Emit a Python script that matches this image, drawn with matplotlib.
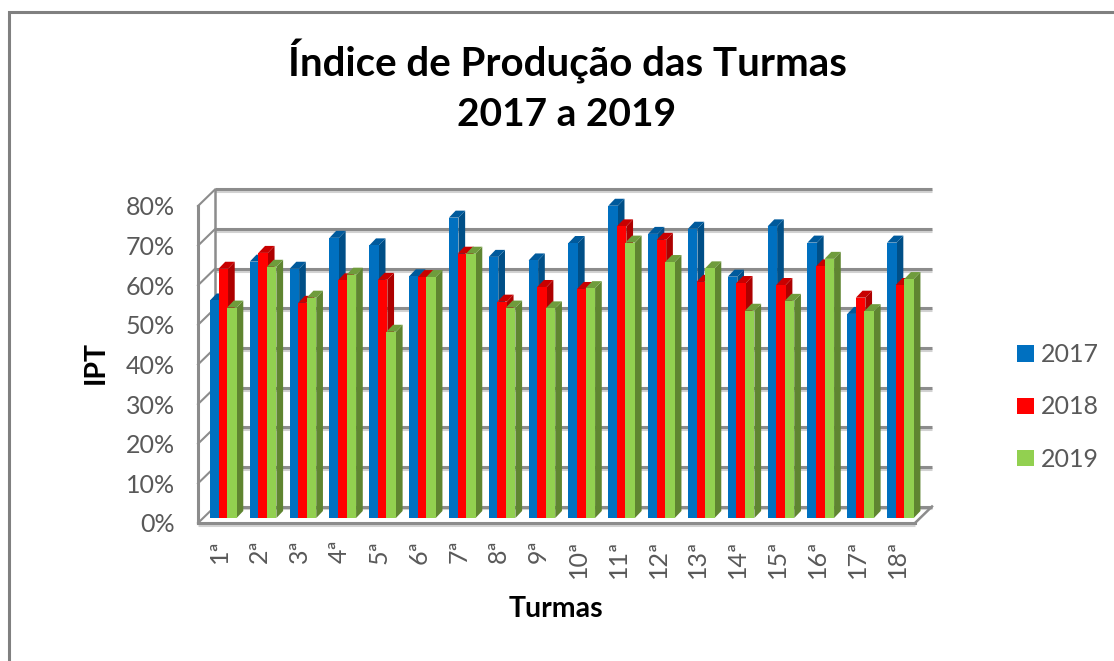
import matplotlib
matplotlib.use("Agg")
import numpy as np
import matplotlib.pyplot as plt
from matplotlib.lines import Line2D

plt.rcParams["font.family"] = ["Lato", "DejaVu Sans"]

turmas = ["1ª", "2ª", "3ª", "4ª", "5ª", "6ª", "7ª", "8ª", "9ª", "10ª",
          "11ª", "12ª", "13ª", "14ª", "15ª", "16ª", "17ª", "18ª"]
ipt_2017 = [54.9, 64.7, 62.9, 70.7, 68.8, 61.0, 75.8, 65.9, 65.0,
            69.4, 78.8, 71.7, 73.0, 60.9, 73.6, 69.5, 51.5, 69.5]
ipt_2018 = [62.9, 66.9, 54.3, 60.0, 60.1, 60.8, 66.7, 54.6, 58.3,
            57.8, 73.6, 70.2, 59.6, 59.3, 58.8, 63.5, 55.6, 58.8]
ipt_2019 = [53.1, 63.4, 55.6, 61.4, 47.0, 60.8, 66.7, 53.1, 52.9,
            58.0, 69.5, 64.6, 63.0, 52.3, 54.8, 65.4, 52.2, 60.3]
percent_ticks = [0, 10, 20, 30, 40, 50, 60, 70, 80]

W, H = 1114, 661
PX_X = 717 / 18   # pixels per category
PX_Y = 317 / 80   # pixels per percentage point

GRID = "#8c8c8c"
GRID_SHADOW = "#d2d2d2"
TEXT = "#595959"

# series: values, left offset in the category, front / top / side colours
series = [
    ("2017", ipt_2017, 0.30, "#0070c0", "#005a9c", "#004f87"),
    ("2018", ipt_2018, 0.515, "#ff0000", "#c80000", "#ad0000"),
    ("2019", ipt_2019, 0.73, "#92d050", "#6f9c3c", "#5f8531"),
]
BAR_W = 9.5 / PX_X
FLOOR = 5 / PX_Y          # bars stand a bit behind the front edge
DEPTH_X = 6.7 / PX_X
DEPTH_Y = 7 / PX_Y
BACK_X = 17 / PX_X
BACK_Y = 16.5 / PX_Y

fig = plt.figure(figsize=(W / 100, H / 100), dpi=100)
ax = fig.add_axes([198 / W, (H - 523) / H, 717 / W, 317 / H])
ax.set_xlim(0, 18)
ax.set_ylim(0, 80)
ax.patch.set_alpha(0)

# back wall
ax.hlines(np.array(percent_ticks) + BACK_Y - 0.5, BACK_X, 18 + BACK_X,
          color=GRID_SHADOW, lw=2.2, zorder=1, clip_on=False)
ax.hlines(np.array(percent_ticks) + BACK_Y, BACK_X, 18 + BACK_X,
          color=GRID, lw=2.2, zorder=1.1, clip_on=False)
ax.vlines(BACK_X, BACK_Y, 80 + BACK_Y, color=GRID, lw=1.8, zorder=1.1, clip_on=False)
for v in percent_ticks:
    ax.plot([0, BACK_X], [v, v + BACK_Y], color=GRID, lw=1.5, zorder=1.1, clip_on=False)
ax.plot([18, 18 + BACK_X], [0, BACK_Y], color=GRID, lw=1.8, zorder=1.1, clip_on=False)
ax.hlines(-0.5, 0, 18, color=GRID_SHADOW, lw=2.2, zorder=1, clip_on=False)

for spine in ["top", "right"]:
    ax.spines[spine].set_visible(False)
for spine in ["left", "bottom"]:
    ax.spines[spine].set_color(GRID)
    ax.spines[spine].set_linewidth(2.2)

x = np.arange(len(turmas))
handles = []
for k, (name, values, offset, front, top, side) in enumerate(series):
    z = 3 + k
    left = x + offset
    right = left + BAR_W
    for l, r, v in zip(left, right, values):
        y0, y1 = FLOOR, FLOOR + v
        ax.fill([r, r + DEPTH_X, r + DEPTH_X, r], [y0, y0 + DEPTH_Y, y1 + DEPTH_Y, y1],
                color=side, lw=0, zorder=z, clip_on=False)
        ax.fill([l, r, r + DEPTH_X, l + DEPTH_X], [y1, y1, y1 + DEPTH_Y, y1 + DEPTH_Y],
                color=top, lw=0, zorder=z, clip_on=False)
    bars = ax.bar(left, values, BAR_W, bottom=FLOOR, align="edge", color=front,
                  zorder=z + 0.5, label=name, clip_on=False)
    handles.append(bars)

ax.set_yticks(percent_ticks)
ax.set_yticklabels([f"{v}%" for v in percent_ticks], fontsize=18, color=TEXT)
ax.tick_params(axis="y", length=0, pad=16.5)

ax.set_xticks(x + 0.55)
ax.set_xticklabels(turmas, rotation=90, fontsize=18, color=TEXT, ha="center", va="top")
ax.tick_params(axis="x", length=0, pad=12)

fig.text(567 / W, 1 - 62 / H, "Índice de Produção das Turmas", fontsize=29, fontweight="bold",
         color="black", ha="center", va="center")
fig.text(567 / W, 1 - 114 / H, "2017 a 2019", fontsize=28, fontweight="bold",
         color="black", ha="center", va="center")
fig.text(96 / W, 1 - 362 / H, "IPT", fontsize=20.5, fontweight="bold", color="black",
         rotation=90, ha="center", va="center")
fig.text(556 / W, 1 - 609 / H, "Turmas", fontsize=20.5, fontweight="bold", color="black",
         ha="center", va="center")

ax.legend(handles=handles, loc="center left", bbox_to_anchor=(1017 / W, 1 - 407 / H),
          bbox_transform=fig.transFigure, frameon=False, fontsize=18, labelcolor=TEXT,
          handlelength=0.66, handleheight=0.62, handletextpad=0.3, labelspacing=1.17,
          borderpad=0, borderaxespad=0)

# outer chart frame, only top and left fall inside the picture
fig.add_artist(Line2D([8.5 / W, 8.5 / W, 1], [0, 1 - 11.5 / H, 1 - 11.5 / H],
                      color="#808080", lw=2.2, solid_joinstyle="miter"))

fig.savefig("out.png", dpi=100)
plt.close(fig)
